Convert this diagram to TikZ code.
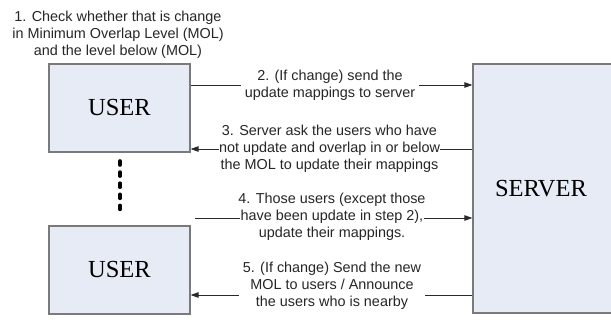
\documentclass[tikz,border=0pt]{standalone}
\usepackage{fontspec}
\setmainfont{Liberation Sans}
\newfontfamily\boxfont{Liberation Serif}
\usetikzlibrary{arrows.meta}
\definecolor{boxfill}{HTML}{E6EBF5}
\definecolor{boxline}{HTML}{7A7A7A}
\definecolor{conn}{HTML}{2A2A2A}
\tikzset{
  entity/.style={draw=boxline, line width=1.2pt, fill=boxfill, font=\boxfont\fontsize{24.5}{28}\selectfont, inner sep=0pt},
  lbl/.style={align=center, font=\fontsize{14.4}{17}\selectfont, inner sep=1pt, text=black!85},
  gaplbl/.style={lbl, fill=white},
  conn/.style={draw=conn, line width=0.8pt, -{Triangle[length=8pt,width=5.5pt]}},
}
\begin{document}
\begin{tikzpicture}[x=1pt,y=-1pt]
\useasboundingbox[fill=white] (0,0) rectangle (611,322);
\node[entity, minimum width=141pt, minimum height=88pt] (user1) at (119.5,108) {USER};
\node[entity, minimum width=141pt, minimum height=88pt] (user2) at (119.5,270) {USER};
\node[entity, minimum width=148pt, minimum height=249pt, text width=140pt, align=left] (server) at (547,188.5) {\hspace*{18pt}SERVER};
\node[lbl] (title) at (118,34.5) {1. Check whether that is change\\in Minimum Overlap Level (MOL)\\and the level below (MOL)};
% dots
\coordinate (d1) at (120,161);
\coordinate (d2) at (120,212);
\draw[line width=3.6pt, line cap=round, dash pattern=on 4pt off 7.1pt] (d1) -- (d2);
% arrow 2
\draw[conn] (user1.east |- 0,85) -- (server.west |- 0,85);
\node[gaplbl, inner xsep=4pt] (t2) at (330,85) {2. (If change) send the\\update mappings to server};
% arrow 3
\draw[conn] (server.west |- 0,149) -- (user1.east |- 0,149);
\node[lbl] (t3) at (329.5,149) {3. Server ask the users who have\\\colorbox{white}{\kern-3pt not update and overlap in or below\kern-3pt}\\the MOL to update their mappings};
% arrow 4
\coordinate (s4) at (195,218);
\draw[conn] (s4) -- (server.west |- 0,218);
\node[lbl] (t4) at (332,216.5) {4. Those users (except those\\\colorbox{white}{\kern-2pt have been update in step 2),\kern-2pt}\\update their mappings.};
% arrow 5
\draw[conn] (server.west |- 0,295) -- (user2.east |- 0,295);
\node[gaplbl, inner xsep=4pt] (t5) at (332,285.5) {5. (If change) Send the new\\MOL to users / Announce\\the users who is nearby};
\end{tikzpicture}
\end{document}
